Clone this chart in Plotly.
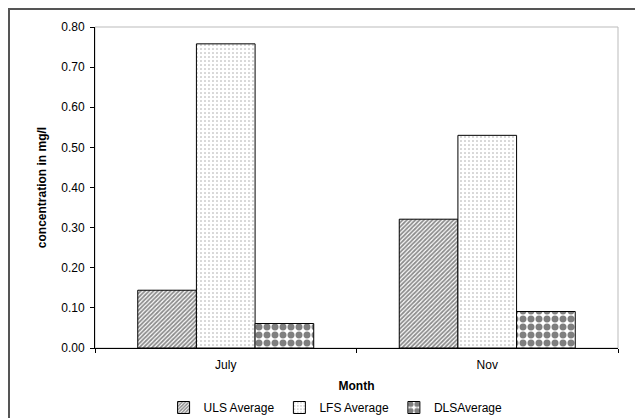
import plotly.graph_objects as go

months = ["July", "Nov"]
uls_average = [0.144, 0.321]
lfs_average = [0.758, 0.530]
dls_average = [0.061, 0.091]

series = [
    ("ULS Average", uls_average, dict(shape="/", fgcolor="#1a1a1a", bgcolor="white", size=3, solidity=0.6)),
    ("LFS Average", lfs_average, dict(shape=".", fgcolor="#444444", bgcolor="white", size=4, solidity=0.12)),
    ("DLSAverage", dls_average, dict(shape=".", fgcolor="black", bgcolor="white", size=8, solidity=0.6)),
]

fig = go.Figure()
for name, vals, pat in series:
    fig.add_trace(go.Bar(
        x=months, y=vals, name=name,
        marker=dict(color="white", line=dict(color="black", width=1), pattern=pat),
    ))

font = "Liberation Sans, Arial, sans-serif"

fig.update_layout(
    width=635, height=418,
    margin=dict(l=95, r=17, t=27, b=70, autoexpand=False),
    paper_bgcolor="white", plot_bgcolor="white",
    barmode="group", bargap=0.327, bargroupgap=0,
    font=dict(family=font, size=12, color="black"),
    showlegend=True,
    legend=dict(orientation="h", x=0.46, xanchor="center",
                yref="container", y=(418 - 393) / 418, yanchor="top",
                font=dict(size=12), itemwidth=30, tracegroupgap=0,
                bgcolor="rgba(0,0,0,0)"),
    shapes=[
        # outer chart frame
        dict(type="rect", xref="paper", yref="paper",
             x0=(9 - 95) / 523, x1=1.2, y0=-0.4, y1=(348 - 9) / 321,
             line=dict(color="#555555", width=2), fillcolor="rgba(0,0,0,0)", layer="below"),
        # plot area frame
        dict(type="rect", xref="paper", yref="paper", x0=0, x1=1, y0=0, y1=1,
             line=dict(color="#bbbbbb", width=1), fillcolor="rgba(0,0,0,0)", layer="below"),
    ],
)

fig.update_xaxes(
    type="category", tickson="boundaries", ticks="outside", ticklen=4, tickcolor="black",
    showline=True, linecolor="black", linewidth=1, showgrid=False, automargin=False,
    ticklabelstandoff=6,
    title=dict(text="<b>Month</b>", font=dict(size=12), standoff=20),
    tickfont=dict(size=12),
)
fig.update_yaxes(
    range=[0, 0.8], dtick=0.1, tickformat=".2f", ticks="outside", ticklen=4, tickcolor="black",
    showline=True, linecolor="black", linewidth=1, showgrid=False, zeroline=False, automargin=False,
    ticklabelstandoff=3,
    title=dict(text="<b>concentration in mg/l</b>", font=dict(size=12), standoff=12),
    tickfont=dict(size=12),
)

fig.write_html("out.html")
